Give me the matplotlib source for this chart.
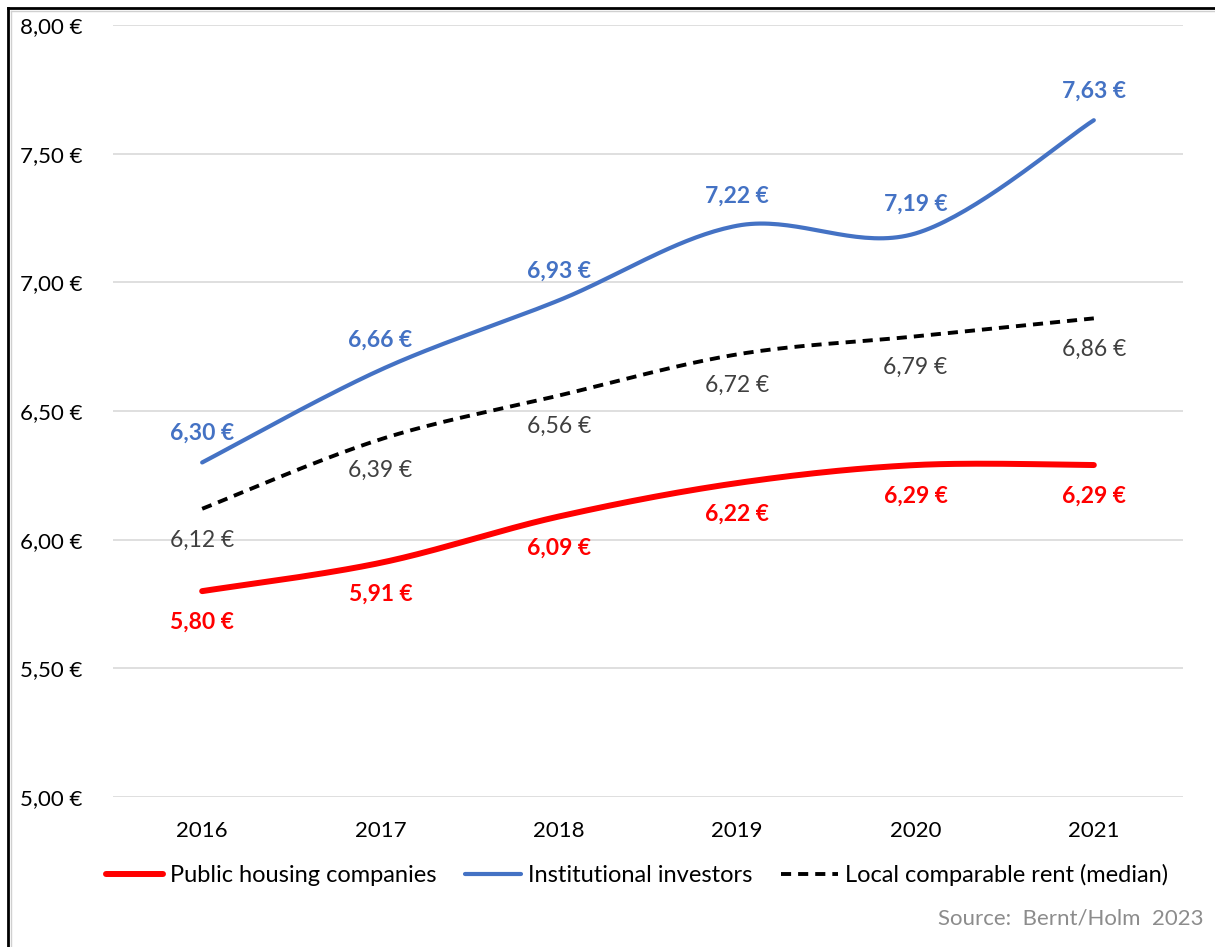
import numpy as np
import matplotlib.pyplot as plt
from matplotlib.lines import Line2D

plt.rcParams['font.family'] = ['Lato', 'DejaVu Sans']

years = ["2016", "2017", "2018", "2019", "2020", "2021"]
public_housing = [5.80, 5.91, 6.09, 6.22, 6.29, 6.29]
institutional = [6.30, 6.66, 6.93, 7.22, 7.19, 7.63]
local_median = [6.12, 6.39, 6.56, 6.72, 6.79, 6.86]

RED = "#FF0000"
BLUE = "#4472C4"
GRAY = "#404040"


def smooth(y, n=40):
    # Bezier smoothing with control points from neighbouring values
    y = np.asarray(y, dtype=float)
    x = np.arange(len(y), dtype=float)
    xs, ys = [], []
    for i in range(len(y) - 1):
        y0 = y[i - 1] if i > 0 else y[i]
        y3 = y[i + 2] if i + 2 < len(y) else y[i + 1]
        x0 = x[i - 1] if i > 0 else x[i]
        x3 = x[i + 2] if i + 2 < len(y) else x[i + 1]
        c1x = x[i] + (x[i + 1] - x0) / 6
        c1y = y[i] + (y[i + 1] - y0) / 6
        c2x = x[i + 1] - (x3 - x[i]) / 6
        c2y = y[i + 1] - (y3 - y[i]) / 6
        t = np.linspace(0, 1, n)
        b0, b1, b2, b3 = (1 - t) ** 3, 3 * t * (1 - t) ** 2, 3 * t ** 2 * (1 - t), t ** 3
        xs.append(b0 * x[i] + b1 * c1x + b2 * c2x + b3 * x[i + 1])
        ys.append(b0 * y[i] + b1 * c1y + b2 * c2y + b3 * y[i + 1])
    return np.concatenate(xs), np.concatenate(ys)


def euro(v):
    return f"{v:.2f} €".replace(".", ",")


W, H = 1215, 947
fig = plt.figure(figsize=(W / 100, H / 100), dpi=100)
ax = fig.add_axes([113 / W, 1 - 797 / H, (1183 - 113) / W, (797 - 25) / H])

x = np.arange(len(years))
DASH = (0, (2.6, 1.8))
ax.plot(*smooth(local_median), color="black", lw=2.8, ls=DASH)
ax.plot(*smooth(institutional), color=BLUE, lw=3.0, solid_capstyle="round")
ax.plot(*smooth(public_housing), color=RED, lw=4.3, solid_capstyle="round")

for xi, v in zip(x, institutional):
    ax.annotate(euro(v), (xi, v), xytext=(0, 21), textcoords="offset points",
                ha="center", va="center", color=BLUE, fontsize=16.5, fontweight="bold")
for xi, v in zip(x, public_housing):
    ax.annotate(euro(v), (xi, v), xytext=(0, -22.5), textcoords="offset points",
                ha="center", va="center", color=RED, fontsize=16.5, fontweight="bold")
for xi, v in zip(x, local_median):
    ax.annotate(euro(v), (xi, v), xytext=(0, -22.5), textcoords="offset points",
                ha="center", va="center", color=GRAY, fontsize=16.5)

ax.set_xlim(-0.5, len(years) - 0.5)
ax.set_ylim(5.0, 8.0)
ax.set_yticks(np.arange(5.0, 8.01, 0.5))
ax.set_yticklabels([euro(v) for v in np.arange(5.0, 8.01, 0.5)])
ax.set_xticks(x)
ax.set_xticklabels(years)
ax.tick_params(axis="both", length=0, labelsize=16, colors="black")
ax.tick_params(axis="y", pad=22)
ax.tick_params(axis="x", pad=17)
ax.grid(axis="y", color="#D9D9D9", lw=1.2)
ax.set_axisbelow(True)
for s in ax.spines.values():
    s.set_visible(False)

handles = [
    Line2D([], [], color=RED, lw=4.3, solid_capstyle="round"),
    Line2D([], [], color=BLUE, lw=3.0, solid_capstyle="round"),
    Line2D([], [], color="black", lw=2.8, ls=DASH),
]
labels = ["Public housing companies", "Institutional investors", "Local comparable rent (median)"]
fig.legend(handles, labels, loc="center", bbox_to_anchor=(637 / W, 1 - 875 / H), ncol=3,
           frameon=False, fontsize=17, handlelength=2.4, handletextpad=0.3, columnspacing=1.2)

fig.text(1203 / W, 1 - 918 / H, "Source:  Bernt/Holm  2023", ha="right", va="center",
         color="#8C8C8C", fontsize=16)

# chart frame
fig.add_artist(Line2D([8 / W, 8 / W], [0, 1 - 8 / H], color="black", lw=2))
fig.add_artist(Line2D([8 / W, 1], [1 - 8 / H, 1 - 8 / H], color="black", lw=2))
fig.add_artist(Line2D([11 / W, 11 / W], [0, 1 - 11 / H], color="#D0D0D0", lw=1))
fig.add_artist(Line2D([11 / W, 1], [1 - 11 / H, 1 - 11 / H], color="#D0D0D0", lw=1))

fig.savefig("out.png", dpi=100)
